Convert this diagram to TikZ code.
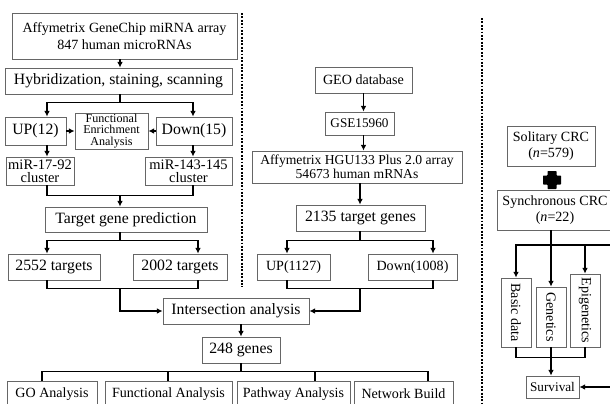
\documentclass[tikz,border=0pt]{standalone}
\usepackage{fontspec}
\setmainfont{Liberation Serif}
\usetikzlibrary{arrows.meta}

\newcommand{\flowbig}{\fontsize{11.2}{12.5}\selectfont}
\newcommand{\flowmid}{\fontsize{10}{11.8}\selectfont}
\newcommand{\flowsmall}{\fontsize{9.4}{11}\selectfont}
\newcommand{\flowpair}{\fontsize{10.3}{9.4}\selectfont}
\newcommand{\flowtight}{\fontsize{9.7}{8.6}\selectfont}
\newcommand{\flowfea}{\fontsize{8.6}{8.2}\selectfont}

\begin{document}
\begin{tikzpicture}[
    x=0.025cm, y=-0.025cm,
    box/.style={draw=black!60, line width=0.6pt, inner sep=0.5pt, align=center, font=\flowmid},
    sz/.style 2 args={minimum width=#1*0.025cm, minimum height=#2*0.025cm},
    link/.style={line width=1.3pt},
    arrow/.style={line width=1.3pt, -{Latex[length=4pt,width=4pt]}},
    sep/.style={line width=1.4pt, densely dotted},
  ]
    \useasboundingbox (0,0) rectangle (610,403);
    \clip (0,0) rectangle (610,403);

    % miRNA column
    \node[box, sz={225}{46}] (affy) at (124.5,36) {Affymetrix GeneChip miRNA array\\847 human microRNAs};
    \node[box, sz={227}{26}, font=\flowbig] (hyb) at (118.5,81) {Hybridization, staining, scanning};
    \node[box, sz={61}{28}, font=\flowbig] (up12) at (35.5,131) {UP(12)};
    \node[box, sz={73}{36}, font=\flowfea, inner sep=0pt] (fea) at (111.5,131) {Functional\\Enrichment\\Analysis};
    \node[box, sz={76}{28}, font=\flowbig] (down15) at (194,131) {Down(15)};
    \node[box, sz={68}{28}, font=\flowpair, inner sep=0pt] (mir17) at (40,171) {miR-17-92\\cluster};
    \node[box, sz={87}{28}, font=\flowpair, inner sep=0pt] (mir143) at (188.5,171) {miR-143-145\\cluster};
    \node[box, sz={162}{25}, font=\flowbig] (tgp) at (126,219.5) {Target gene prediction};
    \node[box, sz={92}{26}, font=\flowbig] (t2552) at (54,267) {2552 targets};
    \node[box, sz={94}{26}, font=\flowbig] (t2002) at (180,267) {2002 targets};

    % mRNA column
    \node[box, sz={97}{26}] (geo) at (363.5,80) {GEO database};
    \node[box, sz={69}{23}, font=\flowsmall] (gse) at (359.5,123.5) {GSE15960};
    \node[box, sz={210}{32}, font=\flowtight] (hgu) at (357,167) {Affymetrix HGU133 Plus 2.0 array\\54673 human mRNAs};
    \node[box, sz={129}{26}, font=\flowbig] (tg2135) at (360.5,218) {2135 target genes};
    \node[box, sz={73}{26}] (up1127) at (293.5,267) {UP(1127)};
    \node[box, sz={89}{26}] (down1008) at (412.5,267) {Down(1008)};

    % common part
    \node[box, sz={146}{26}, font=\flowbig] (inter) at (236,311) {Intersection analysis};
    \node[box, sz={78}{26}, font=\flowbig] (g248) at (241,350) {248 genes};
    \node[box, sz={90}{26}] (go) at (52,394) {GO Analysis};
    \node[box, sz={127}{26}] (func) at (168.5,394) {Functional Analysis};
    \node[box, sz={113}{26}] (path) at (293.5,394) {Pathway Analysis};
    \node[box, sz={99}{26}] (net) at (403.5,394) {Network Build};

    % CRC column
    \node[box, sz={88}{40}] (sol) at (551,146) {Solitary CRC\\(\textit{n}=579)};
    \node[box, sz={116}{40}] (syn) at (555,210) {Synchronous CRC\\(\textit{n}=22)};
    \node[box, sz={30}{69}] (basic) at (516,312.5) {\rotatebox{-90}{Basic data}};
    \node[box, sz={30}{60}] (genet) at (551,317) {\rotatebox{-90}{Genetics}};
    \node[box, sz={30}{73}] (epi) at (585,310.5) {\rotatebox{-90}{Epigenetics}};
    \node[box, sz={53}{22}, font=\flowsmall] (surv) at (552.5,387) {Survival};

    \coordinate (cl) at (47,0);
    \coordinate (cc) at (120,0);
    \coordinate (cr) at (193,0);
    \coordinate (crr) at (198,0);
    \coordinate (ml) at (287,0);
    \coordinate (mc) at (360,0);
    \coordinate (mr) at (433,0);

    \draw[arrow] (affy.south -| cc) -- (hyb.north -| cc);
    \draw[link] (hyb.south -| cc) -- ++(0,8) coordinate (hybsplit);
    \draw[arrow] (hybsplit) -| (up12.north -| cl);
    \draw[arrow] (hybsplit) -| (down15.north -| cr);
    \draw[arrow] (up12) -- (fea);
    \draw[arrow] (down15) -- (fea);
    \draw[arrow] (up12.south -| cl) -- (mir17.north -| cl);
    \draw[arrow] (down15.south -| cr) -- (mir143.north -| cr);
    \draw[link] (mir17.south -| cl) -- ++(0,10) coordinate (mirjoin) -| (mir143.south -| cr);
    \draw[arrow] (mirjoin -| cc) -- (tgp.north -| cc);
    \draw[link] (tgp.south -| cc) -- ++(0,8) coordinate (tgpsplit);
    \draw[arrow] (tgpsplit) -| (t2552.north -| cl);
    \draw[arrow] (tgpsplit) -| (t2002.north -| crr);
    \draw[link] (t2552.south -| cl) -- ++(0,8) coordinate (tjoin) -| (t2002.south -| crr);
    \draw[arrow] (tjoin -| cc) |- (inter.west);

    \draw[arrow] (geo.south) -- (geo.south |- gse.north);
    \draw[arrow] (geo.south |- gse.south) -- (geo.south |- hgu.north);
    \draw[arrow] (hgu.south -| mc) -- (tg2135.north -| mc);
    \draw[link] (tg2135.south -| mc) -- ++(0,9) coordinate (tgsplit);
    \draw[arrow] (tgsplit) -| (up1127.north -| ml);
    \draw[arrow] (tgsplit) -| (down1008.north -| mr);
    \draw[link] (up1127.south -| ml) -- ++(0,8) coordinate (udjoin) -| (down1008.south -| mr);
    \draw[arrow] (udjoin -| mc) |- (inter.east);

    \draw[arrow] (g248.north |- inter.south) -- (g248.north);
    \draw[link] (g248.south) -- ++(0,8) coordinate (gsplit);
    \foreach \tx/\tb in {42/go, 168/func, 315/path, 428/net}{
        \coordinate (tk) at (\tx,0);
        \draw[link] (gsplit) -| (\tb.north -| tk);
    }

    % plus sign
    \coordinate (plus) at (552,180);
    \fill[rounded corners=0.4pt] (plus) ++(-4.5,-9) -- ++(9,0) -- ++(0,4.5) -- ++(4.5,0) -- ++(0,9)
        -- ++(-4.5,0) -- ++(0,4.5) -- ++(-9,0) -- ++(0,-4.5) -- ++(-4.5,0) -- ++(0,-9) -- ++(4.5,0) -- cycle;

    \coordinate (offright) at (625,245);
    \coordinate (survin) at (625,0);
    \draw[arrow] (genet.north |- syn.south) -- (genet.north);
    \draw[arrow] (offright) -| (basic.north);
    \draw[arrow] (offright) -| (epi.north);
    \draw[link] (basic.south) -- ++(0,10) -| (epi.south);
    \draw[arrow] (genet.south) -- (genet.south |- surv.north);
    \draw[arrow] (surv.east -| survin) -- (surv.east);

    % separators
    \draw[sep] (242,13) -- (242,287);
    \draw[sep] (482,18) -- (482,403);
\end{tikzpicture}
\end{document}
